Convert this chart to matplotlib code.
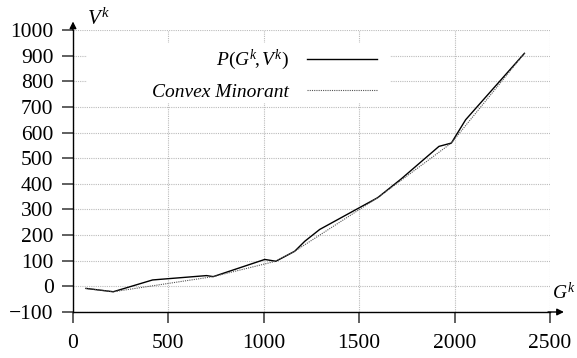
import matplotlib
matplotlib.use("Agg")
import matplotlib.pyplot as plt
from matplotlib.patches import Rectangle

# ---------------------------------------------------------------------------
# Data
# ---------------------------------------------------------------------------
G_K = [68, 211, 417, 700, 735, 1005, 1063, 1162, 1215, 1293, 1597, 1720, 1918, 1983, 2058, 2366]
V_K = [-8, -21, 25, 42, 38, 105, 98, 137, 176, 222, 346, 419, 546, 559, 650, 909]

MINOR_G = [68, 211, 735, 1063, 1162, 1597, 1983, 2366]
MINOR_V = [-8, -21, 38, 98, 137, 346, 559, 909]

X_TICKS = [0, 500, 1000, 1500, 2000, 2500]
Y_TICKS = [-100, 0, 100, 200, 300, 400, 500, 600, 700, 800, 900, 1000]

plt.rcParams["font.family"] = ["Liberation Serif", "DejaVu Serif"]
plt.rcParams["mathtext.fontset"] = "custom"
plt.rcParams["mathtext.it"] = "Liberation Serif:italic"
plt.rcParams["mathtext.rm"] = "Liberation Serif"

fig = plt.figure(figsize=(5.77, 3.58), dpi=100)
ax = fig.add_axes([73 / 577, 1 - 312 / 358, (550 - 73) / 577, (312 - 30) / 358])

ax.plot(G_K, V_K, color="black", linewidth=1.0, label=r"$P(G^k\!,V^k)$", zorder=3)
ax.plot(MINOR_G, MINOR_V, color="#555555", linewidth=0.8, linestyle=(0, (1, 1)),
        label="Convex Minorant", zorder=3)

ax.set_xlim(0, 2500)
ax.set_ylim(-100, 1000)
ax.set_xticks(X_TICKS)
ax.set_yticks(Y_TICKS)
ax.set_yticklabels([str(v).replace("-", "\u2212") for v in Y_TICKS])

ax.grid(True, color="#bbbbbb", linestyle=(0, (1, 1)), linewidth=0.8)
ax.set_axisbelow(True)

for s in ["top", "right"]:
    ax.spines[s].set_visible(False)
for s in ["left", "bottom"]:
    ax.spines[s].set_linewidth(1.0)

ax.tick_params(axis="both", labelsize=15.5, length=8, width=1.2, color="#444444")
ax.tick_params(axis="x", pad=8)
ax.tick_params(axis="y", pad=6)

# axis arrows
ax.annotate("", xy=(1.035, 0), xytext=(0.99, 0), xycoords="axes fraction",
            arrowprops=dict(arrowstyle="-|>", color="black", lw=1.0, mutation_scale=10),
            annotation_clip=False)
ax.annotate("", xy=(0, 1.04), xytext=(0, 0.99), xycoords="axes fraction",
            arrowprops=dict(arrowstyle="-|>", color="black", lw=1.0, mutation_scale=10),
            annotation_clip=False)

ax.text(0.03, 1.0, r"$V^k$", transform=ax.transAxes, fontsize=15, va="bottom", ha="left")
ax.text(1.005, 0.03, r"$G^k$", transform=ax.transAxes, fontsize=14, va="bottom", ha="left")

# white backing behind the legend (hides the grid there)
ax.add_patch(Rectangle((0.029, 0.741), 0.636, 0.213, transform=ax.transAxes,
                       facecolor="white", edgecolor="none", zorder=1.5))

leg = ax.legend(loc="upper right", bbox_to_anchor=(0.673, 0.998), markerfirst=False,
                prop={"style": "italic", "size": 14}, handlelength=3.6, handletextpad=0.9,
                labelspacing=0.55, borderpad=0.4, frameon=False)
leg.set_zorder(2)

fig.savefig("out.png", dpi=100)
